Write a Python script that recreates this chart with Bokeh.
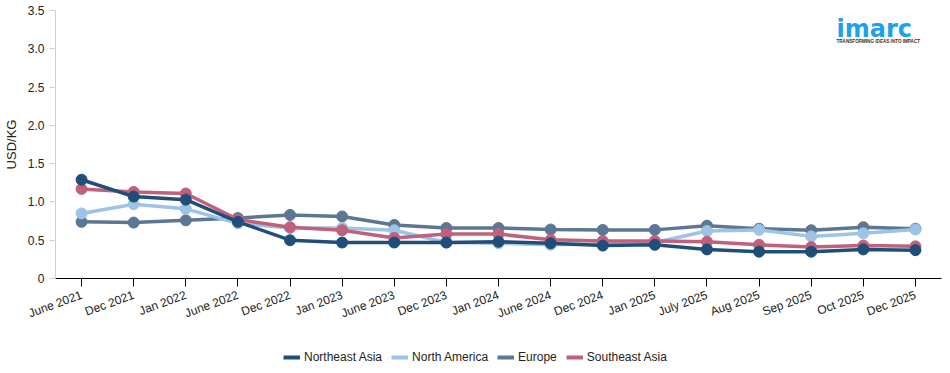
import math
from bokeh.plotting import figure
from bokeh.layouts import column
from bokeh.models import Legend, LegendItem, ColumnDataSource, Label
from bokeh.embed import file_html
from bokeh.resources import INLINE

categories = ["June 2021", "Dec 2021", "Jan 2022", "June 2022", "Dec 2022", "Jan 2023",
              "June 2023", "Dec 2023", "Jan 2024", "June 2024", "Dec 2024", "Jan 2025",
              "July 2025", "Aug 2025", "Sep 2025", "Oct 2025", "Dec 2025"]

northeast_asia = [1.29, 1.07, 1.03, 0.74, 0.50, 0.47, 0.47, 0.47, 0.48, 0.46, 0.43, 0.44,
                  0.38, 0.35, 0.35, 0.38, 0.37]
north_america = [0.85, 0.97, 0.91, 0.72, 0.66, 0.66, 0.63, 0.47, 0.46, 0.44, 0.45, 0.47,
                 0.62, 0.635, 0.55, 0.59, 0.64]
europe = [0.74, 0.73, 0.76, 0.79, 0.83, 0.81, 0.70, 0.66, 0.66, 0.64, 0.635, 0.635,
          0.69, 0.65, 0.63, 0.67, 0.65]
southeast_asia = [1.17, 1.13, 1.11, 0.77, 0.67, 0.63, 0.53, 0.58, 0.58, 0.505, 0.49, 0.49,
                  0.48, 0.44, 0.41, 0.43, 0.42]

series = [
    ("Northeast Asia", northeast_asia, "#1f4e79"),
    ("North America", north_america, "#9dc3e6"),
    ("Europe", europe, "#5b7794"),
    ("Southeast Asia", southeast_asia, "#c0607a"),
]

FONT = "Liberation Sans"

p = figure(width=950, height=343, x_range=categories, y_range=(0, 3.5),
           output_backend="svg", toolbar_location=None,
           min_border_left=55, min_border_right=9, min_border_top=10, min_border_bottom=65)
p.outline_line_color = None
p.xgrid.grid_line_color = None
p.ygrid.grid_line_color = None
p.background_fill_color = "white"
p.border_fill_color = "white"

draw_order = ["Europe", "North America", "Southeast Asia", "Northeast Asia"]
for name in draw_order:
    vals, col = [(v, c) for n, v, c in series if n == name][0]
    src = ColumnDataSource(dict(x=categories, y=vals))
    p.line("x", "y", source=src, line_color=col, line_width=3.5)
    p.scatter("x", "y", source=src, size=11, fill_color=col, line_color=col)

# axes
p.yaxis.ticker = [0, 0.5, 1.0, 1.5, 2.0, 2.5, 3.0, 3.5]
p.yaxis.major_label_overrides = {0: "0", 0.5: "0.5", 1.0: "1.0", 1.5: "1.5", 2.0: "2.0",
                                 2.5: "2.5", 3.0: "3.0", 3.5: "3.5"}
p.yaxis.axis_label = "USD/KG"
p.yaxis.axis_label_text_font = FONT
p.yaxis.axis_label_text_font_style = "normal"
p.yaxis.axis_label_text_font_size = "13px"
p.yaxis.axis_label_text_color = "#222222"
p.yaxis.axis_label_standoff = 6
p.yaxis.major_label_text_font = FONT
p.yaxis.major_label_text_font_size = "12px"
p.yaxis.major_label_text_color = "#222222"
p.yaxis.axis_line_color = "#d0d0d0"
p.yaxis.major_tick_line_color = "#d0d0d0"
p.yaxis.major_tick_out = 6
p.yaxis.major_tick_in = 0
p.yaxis.minor_tick_line_color = None

p.xaxis.major_label_orientation = math.radians(20)
p.xaxis.major_label_text_font = FONT
p.xaxis.major_label_text_font_size = "12px"
p.xaxis.major_label_text_color = "#222222"
p.xaxis.axis_line_color = "#000000"
p.xaxis.axis_line_width = 1.2
p.xaxis.major_tick_line_color = "#000000"
p.xaxis.major_tick_out = 8
p.xaxis.major_tick_in = 0
p.xaxis.major_label_standoff = 8

# logo (screen units are measured from the frame's lower-left corner)
p.add_layout(Label(x=781, y=250, x_units="screen", y_units="screen", text="imarc",
                   text_font="DejaVu Sans", text_font_style="bold", text_font_size="24px",
                   text_baseline="alphabetic", text_color="#1ea0f0"))
p.add_layout(Label(x=781, y=237, x_units="screen", y_units="screen",
                   text="TRANSFORMING IDEAS INTO IMPACT", text_font=FONT,
                   text_font_style="bold", text_font_size="4.6px",
                   text_baseline="alphabetic", text_color="#333333"))

# legend strip
p2 = figure(width=950, height=30, output_backend="svg", toolbar_location=None,
            min_border=0, x_range=(0, 1), y_range=(0, 1))
p2.axis.visible = False
p2.grid.visible = False
p2.outline_line_color = None
items = []
for name, vals, col in series:
    r = p2.line(x=[5, 6], y=[5, 6], line_color=col, line_width=4)
    items.append(LegendItem(label=name, renderers=[r]))
legend = Legend(items=items, orientation="horizontal", location=(228, 9),
                label_text_font=FONT, label_text_font_size="12px", label_text_color="#222222",
                glyph_width=17, glyph_height=10, label_standoff=4, spacing=9,
                border_line_color=None, background_fill_alpha=0, padding=2, margin=0)
p2.add_layout(legend, "center")

layout = column(p, p2, spacing=0)
open("out.html", "w").write(file_html(layout, INLINE))
